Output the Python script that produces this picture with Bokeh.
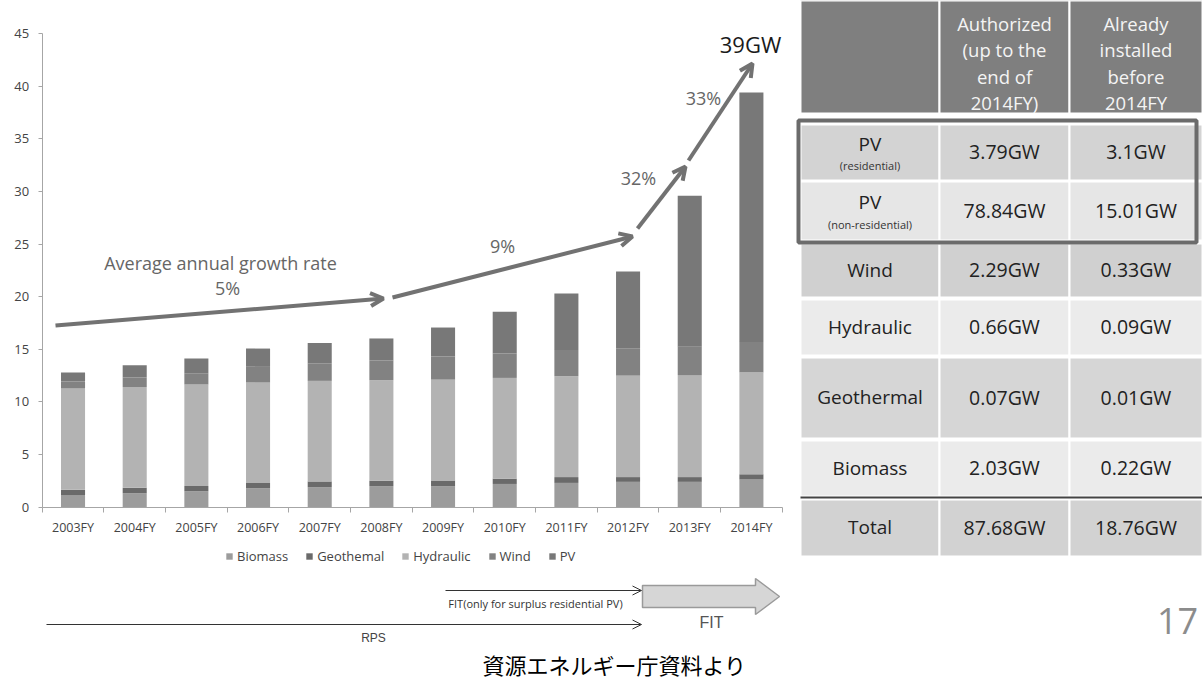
from bokeh.plotting import figure
from bokeh.models import (Range1d, LinearAxis, FixedTicker, Legend, LegendItem,
                          Arrow, OpenHead, ColumnDataSource)
from bokeh.core.properties import value
from bokeh.embed import file_html
from bokeh.resources import INLINE

# ---------------- data ----------------
years = ["2003FY", "2004FY", "2005FY", "2006FY", "2007FY", "2008FY",
         "2009FY", "2010FY", "2011FY", "2012FY", "2013FY", "2014FY"]
biomass    = [1.10, 1.32, 1.51, 1.80, 1.90, 1.99, 1.99, 2.20, 2.30, 2.40, 2.40, 2.62]
geothermal = [0.55, 0.52, 0.50, 0.50, 0.54, 0.53, 0.54, 0.50, 0.55, 0.45, 0.45, 0.50]
hydraulic  = [9.62, 9.58, 9.64, 9.54, 9.56, 9.54, 9.59, 9.58, 9.59, 9.65, 9.70, 9.68]
wind       = [0.68, 0.90, 1.08, 1.49, 1.67, 1.88, 2.19, 2.32, 2.50, 2.60, 2.70, 2.90]
pv         = [0.85, 1.17, 1.39, 1.74, 1.93, 2.09, 2.76, 3.97, 5.36, 7.30, 14.35, 23.70]
series_names = ["Biomass", "Geothemal", "Hydraulic", "Wind", "PV"]
y_ticks = [0, 5, 10, 15, 20, 25, 30, 35, 40, 45]

growth_labels = ["5%", "9%", "32%", "33%"]
peak_label = "39GW"

table_header = ["", "Authorized\n(up to the\nend of\n2014FY)", "Already\ninstalled\nbefore\n2014FY"]
table_sources = ["PV", "PV", "Wind", "Hydraulic", "Geothermal", "Biomass", "Total"]
table_sub = ["(residential)", "(non-residential)", "", "", "", "", ""]
authorized_gw = [3.79, 78.84, 2.29, 0.66, 0.07, 2.03, 87.68]
installed_gw = [3.1, 15.01, 0.33, 0.09, 0.01, 0.22, 18.76]

# ---------------- layout / style ----------------
W, H = 1202, 680
AX_X0 = 41.7        # px of left edge of the category axis
CAT_W = 61.67       # px per category
Y0_PX = 506.6       # px of value 0
PX_PER_UNIT = 10.52
FONT = value("Open Sans")
colors = ["#9c9c9c", "#6a6a6a", "#b3b3b3", "#828282", "#787878"]

p = figure(width=W, height=H, x_range=Range1d(0, W), y_range=Range1d(H, 0),
           x_axis_type=None, y_axis_type=None, toolbar_location=None,
           output_backend="svg", min_border=0, outline_line_color=None)
p.background_fill_color = "white"
p.border_fill_color = "white"

n = len(years)
bx_start = -0.5 - AX_X0 / CAT_W
p.extra_x_ranges = {"bx": Range1d(bx_start, bx_start + W / CAT_W)}
p.extra_y_ranges = {"by": Range1d((Y0_PX - H) / PX_PER_UNIT, Y0_PX / PX_PER_UNIT)}

# ---------------- stacked bars ----------------
src = ColumnDataSource(dict(x=list(range(n)), Biomass=biomass, Geothemal=geothermal,
                            Hydraulic=hydraulic, Wind=wind, PV=pv))
rs = p.vbar_stack(series_names, x="x", width=0.39, color=colors, line_color=None,
                  source=src, x_range_name="bx", y_range_name="by")

yaxis = LinearAxis(x_range_name="bx", y_range_name="by", fixed_location=-0.5,
                   bounds=(0, 45), ticker=FixedTicker(ticks=y_ticks))
yaxis.axis_line_color = "#a6a6a6"
yaxis.major_tick_line_color = "#a6a6a6"
yaxis.major_tick_out = 4
yaxis.major_tick_in = 0
yaxis.minor_tick_line_color = None
yaxis.major_label_standoff = 9
yaxis.major_label_text_font = "Open Sans"
yaxis.major_label_text_font_size = "13px"
yaxis.major_label_text_color = "#444444"
p.add_layout(yaxis, "left")

xaxis = LinearAxis(x_range_name="bx", y_range_name="by", fixed_location=0,
                   bounds=(-0.5, n - 0.5),
                   ticker=FixedTicker(ticks=[i - 0.5 for i in range(n + 1)]))
xaxis.axis_line_color = "#a6a6a6"
xaxis.major_tick_line_color = "#a6a6a6"
xaxis.major_tick_out = 5
xaxis.major_tick_in = 0
xaxis.minor_tick_line_color = None
xaxis.major_label_text_alpha = 0
xaxis.major_label_text_font_size = "1px"
p.add_layout(xaxis, "below")

xlab = LinearAxis(x_range_name="bx", y_range_name="by", fixed_location=0,
                  bounds=(-0.5, n - 0.5), ticker=FixedTicker(ticks=list(range(n))),
                  major_label_overrides={i: y for i, y in enumerate(years)})
xlab.axis_line_color = None
xlab.major_tick_line_color = None
xlab.minor_tick_line_color = None
xlab.major_tick_out = 0
xlab.major_tick_in = 0
xlab.major_label_standoff = 12
xlab.major_label_text_font = "Open Sans"
xlab.major_label_text_font_size = "12.5px"
xlab.major_label_text_color = "#444444"
p.add_layout(xlab, "below")

legend = Legend(items=[LegendItem(label=nm, renderers=[r]) for nm, r in zip(series_names, rs)],
                orientation="horizontal", location=(225, 115), glyph_width=8, glyph_height=8,
                label_standoff=4, spacing=17, padding=0, margin=0, label_height=14,
                border_line_color=None, background_fill_alpha=0,
                label_text_font="Open Sans", label_text_font_size="13px",
                label_text_color="#444444")
p.add_layout(legend)

# ---------------- growth arrows & labels ----------------
ac = "#727272"
for (x0, y0, x1, y1) in [(55, 325, 383, 298), (392, 297, 632, 236),
                         (637, 228, 685, 166), (688, 160, 752, 63)]:
    p.add_layout(Arrow(end=OpenHead(size=13, line_width=4, line_color=ac),
                       x_start=x0, y_start=y0, x_end=x1, y_end=y1,
                       line_width=4, line_color=ac))
p.text(x=[220], y=[262], text=["Average annual growth rate"], text_font=FONT,
       text_font_size="18px", text_color="#666666", text_align="center", text_baseline="middle")
p.text(x=[227, 502, 638, 703], y=[287, 245, 177, 97], text=growth_labels, text_font=FONT,
       text_font_size="18px", text_color="#666666", text_align="center", text_baseline="middle")
p.text(x=[750], y=[43], text=[peak_label], text_font=FONT, text_font_size="22px",
       text_color="#1a1a1a", text_align="center", text_baseline="middle")

# ---------------- policy arrows ----------------
p.add_layout(Arrow(end=OpenHead(size=9, line_width=1, line_color="#333333"),
                   x_start=445, y_start=590, x_end=641, y_end=590,
                   line_width=1.2, line_color="#333333"))
p.add_layout(Arrow(end=OpenHead(size=9, line_width=1, line_color="#333333"),
                   x_start=46, y_start=624, x_end=641, y_end=624,
                   line_width=1.2, line_color="#333333"))
p.patch(x=[642, 755, 755, 779, 755, 755, 642], y=[585, 585, 578, 596, 614, 607, 607],
        fill_color="#d6d6d6", line_color="#9a9a9a", line_width=1.5)
p.text(x=[535], y=[603], text=["FIT(only for surplus residential PV)"], text_font=FONT,
       text_font_size="11px", text_color="#333333", text_align="center", text_baseline="middle")
p.text(x=[373], y=[637], text=["RPS"], text_font=value("Liberation Sans"),
       text_font_size="12px", text_color="#444444", text_align="center", text_baseline="middle")
p.text(x=[711], y=[622], text=["FIT"], text_font=value("Liberation Sans"),
       text_font_size="16px", text_color="#555555", text_align="center", text_baseline="middle")
p.text(x=[614], y=[663], text=["資源エネルギー庁資料より"], text_font=value("Noto Sans CJK JP"),
       text_font_size="22px", text_color="black", text_align="center", text_baseline="middle")
p.text(x=[1177], y=[620], text=["17"], text_font=FONT, text_font_size="36px",
       text_color="#8c8c8c", text_align="center", text_baseline="middle")

# ---------------- table ----------------
col_edges = [800, 939, 1069, 1202]
col_mid = [(col_edges[i] + col_edges[i + 1]) / 2 for i in range(3)]
row_top = [124, 181, 243, 299, 357, 440, 499]
row_bot = [180, 240, 297, 355, 438, 496, 556]
row_col = ["#d3d3d3", "#e6e6e6", "#d0d0d0", "#ebebeb", "#d6d6d6", "#ebebeb", "#d2d2d2"]
# header
p.quad(left=col_edges[:-1], right=col_edges[1:], top=[0] * 3, bottom=[113] * 3,
       fill_color="#7f7f7f", line_color="white", line_width=2)
for c in (1, 2):
    lines = table_header[c].split("\n")
    p.text(x=[col_mid[c]] * len(lines), y=[23 + 26.3 * k for k in range(len(lines))],
           text=lines, text_font=FONT, text_font_size="18.5px", text_color="#f4f4f4",
           text_align="center", text_baseline="middle")
# rows
L, R, T, B, C = [], [], [], [], []
for i in range(len(table_sources)):
    for c in range(3):
        L.append(col_edges[c]); R.append(col_edges[c + 1])
        T.append(row_top[i]); B.append(row_bot[i]); C.append(row_col[i])
p.quad(left=L, right=R, top=T, bottom=B, fill_color=C, line_color="white", line_width=2)
p.segment(x0=[800], y0=[497], x1=[1202], y1=[497], line_color="#444444", line_width=2)
p.quad(left=[798], right=[1196], top=[120], bottom=[242], fill_color=None,
       line_color="#6b6b6b", line_width=4)

lab_x, lab_y, lab_t = [], [], []
sub_x, sub_y, sub_t = [], [], []
val_x, val_y, val_t = [], [], []
for i, name in enumerate(table_sources):
    mid = (row_top[i] + row_bot[i]) / 2
    if table_sub[i]:
        lab_y.append(mid - 9); sub_x.append(col_mid[0]); sub_y.append(mid + 13)
        sub_t.append(table_sub[i])
    else:
        lab_y.append(mid - 1)
    lab_x.append(col_mid[0]); lab_t.append(name)
    for c, v in ((1, authorized_gw[i]), (2, installed_gw[i])):
        val_x.append(col_mid[c]); val_y.append(mid - 1); val_t.append(f"{v}GW")
p.text(x=lab_x, y=lab_y, text=lab_t, text_font=FONT, text_font_size="19px",
       text_color="#222222", text_align="center", text_baseline="middle")
p.text(x=sub_x, y=sub_y, text=sub_t, text_font=FONT, text_font_size="11px",
       text_color="#333333", text_align="center", text_baseline="middle")
p.text(x=val_x, y=val_y, text=val_t, text_font=FONT, text_font_size="19.5px",
       text_color="#222222", text_align="center", text_baseline="middle")

open("out.html", "w").write(file_html(p, INLINE))
